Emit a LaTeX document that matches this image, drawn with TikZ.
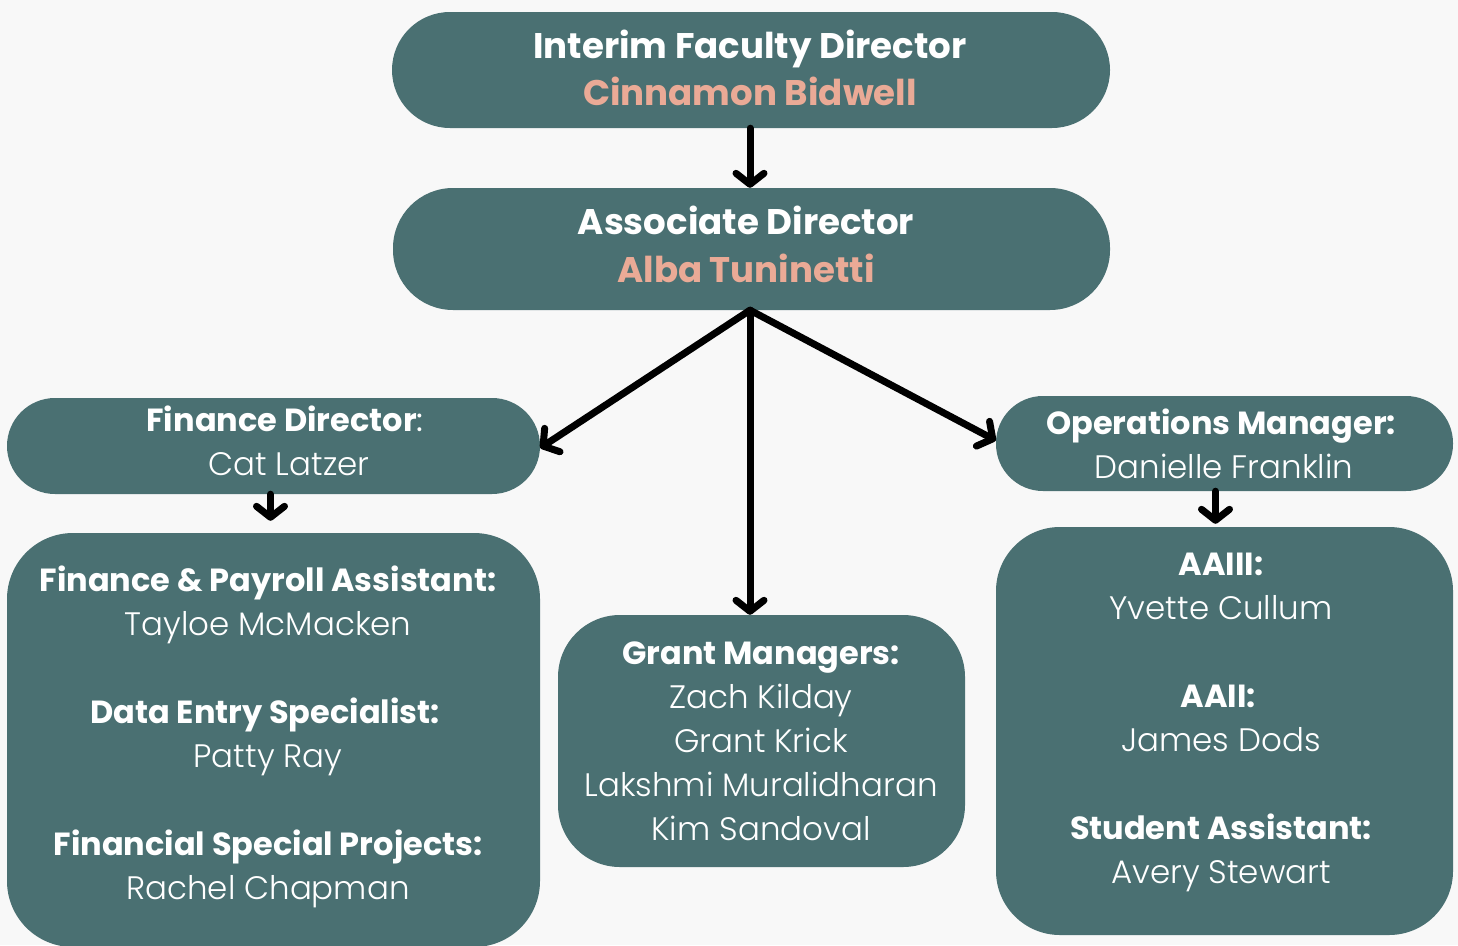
\documentclass[tikz,border=0pt]{standalone}
\usepackage{fontspec}
\usetikzlibrary{arrows.meta}
\setmainfont{Poppins}
\IfFontExistsTF{Poppins Light}{\newfontfamily\namefont{Poppins Light}}{\newfontfamily\namefont{Poppins}}
\definecolor{boxc}{RGB}{74,112,114}
\definecolor{salmon}{RGB}{234,170,150}
\definecolor{bgc}{RGB}{248,248,248}
\begin{document}
\begin{tikzpicture}[x=1pt,y=-1pt,
  box/.style={fill=boxc, inner sep=0pt},
  arr/.style={line width=7pt, line cap=round, line join=round, black,
    -{Straight Barb[length=11pt,width=28pt,line cap=round,line join=round]}},
  tb/.style={anchor=base, inner sep=0pt, text=white, font=\fontsize{32}{38}\selectfont\bfseries},
  tn/.style={anchor=base, inner sep=0pt, text=white, font=\fontsize{32.5}{38}\selectfont\namefont},
  tbig/.style={anchor=base, inner sep=0pt, text=white, font=\fontsize{35.6}{42}\selectfont\bfseries},
  tsal/.style={anchor=base, inner sep=0pt, text=salmon, font=\fontsize{35.6}{42}\selectfont\bfseries}]
\fill[bgc] (0,0) rectangle (1458,945);
\useasboundingbox (0,0) rectangle (1458,945);

% boxes
\node[box, minimum width=718pt, minimum height=116pt, rounded corners=58pt] (top) at (751,70) {};
\node[box, minimum width=717pt, minimum height=122pt, rounded corners=60pt] (assoc) at (751.5,249) {};
\node[box, minimum width=533pt, minimum height=96pt, rounded corners=48pt] (fin) at (273.5,446) {};
\node[box, minimum width=457pt, minimum height=95pt, rounded corners=47pt] (ops) at (1224.5,443.5) {};
\node[box, minimum width=533pt, minimum height=414pt, rounded corners=66pt] (lbig) at (273.5,740) {};
\node[box, minimum width=407pt, minimum height=252pt, rounded corners=62pt] (mid) at (761.5,741) {};
\node[box, minimum width=457pt, minimum height=408pt, rounded corners=64pt] (rbig) at (1224.5,731) {};

% texts
\node[tbig] (t1) at (750,58) {Interim Faculty Director};
\node[tsal] (t2) at (750,105) {Cinnamon Bidwell};
\node[tbig] (t3) at (746,234) {Associate Director};
\node[tsal] (t4) at (746,282) {Alba Tuninetti};

\node[tb] (f1) at (285,431) {Finance Director\mdseries:};
\node[tn] (f2) at (289,475) {Cat Latzer};

\node[tb] (o1) at (1221,434) {Operations Manager:};
\node[tn] (o2) at (1224,478) {Danielle Franklin};

\node[tb] (l1) at (268,591) {Finance \& Payroll Assistant:};
\node[tn] (l2) at (268,635) {Tayloe McMacken};
\node[tb] (l3) at (265,723) {Data Entry Specialist:};
\node[tn] (l4) at (268,767) {Patty Ray};
\node[tb] (l5) at (268,855) {Financial Special Projects:};
\node[tn] (l6) at (268,899) {Rachel Chapman};

\node[tb] (m1) at (761,664) {Grant Managers:};
\node[tn] (m2) at (761,708) {Zach Kilday};
\node[tn] (m3) at (761,752) {Grant Krick};
\node[tn] (m4) at (761,796) {Lakshmi Muralidharan};
\node[tn] (m5) at (761,840) {Kim Sandoval};

\node[tb] (r1) at (1221,575) {AAIII:};
\node[tn] (r2) at (1221,619) {Yvette Cullum};
\node[tb] (r3) at (1218,707) {AAII:};
\node[tn] (r4) at (1221,751) {James Dods};
\node[tb] (r5) at (1221,839) {Student Assistant:};
\node[tn] (r6) at (1221,883) {Avery Stewart};

% connectors
\coordinate (hub) at ([xshift=-1.5pt]assoc.south);
\draw[arr] ([xshift=-1pt]top.south) -- ([xshift=-1.5pt]assoc.north);
\draw[arr] (hub) -- ([yshift=-2pt]fin.east);
\draw[arr] (hub) -- ([yshift=3pt]ops.west);
\draw[arr] (hub) -- (hub |- mid.north);
\draw[arr, shorten >=12pt] ([xshift=-3pt]fin.south) -- ([xshift=-3pt]lbig.north);
\draw[arr, shorten >=3pt] ([xshift=-9pt]ops.south) -- ([xshift=-9pt]rbig.north);
\end{tikzpicture}
\end{document}
